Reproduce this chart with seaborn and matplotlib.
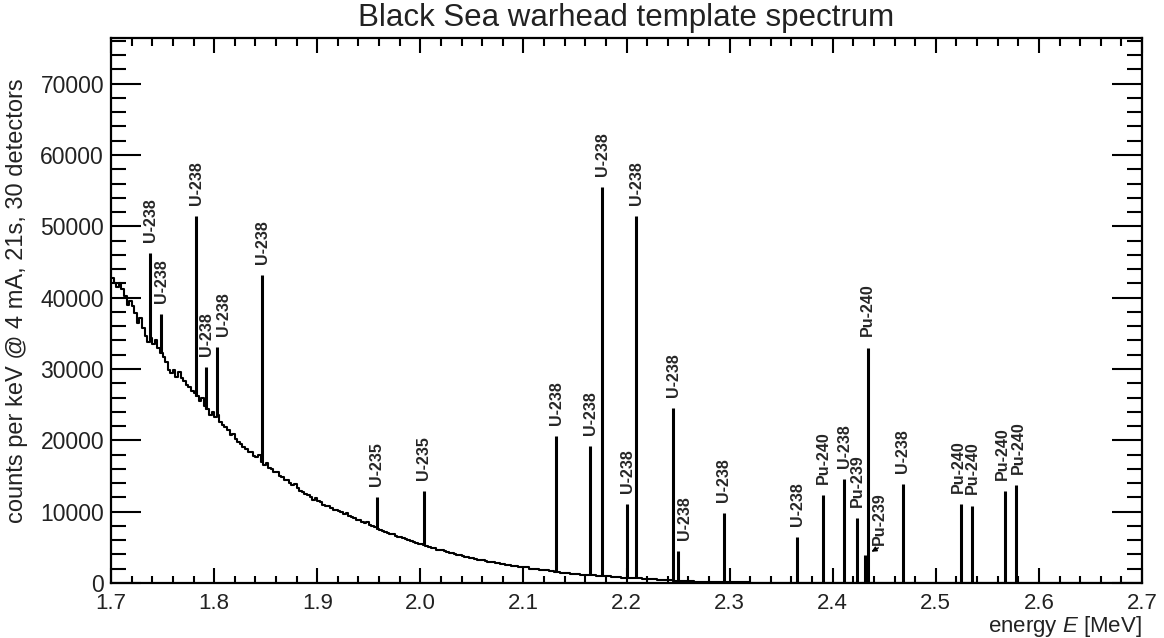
"""Black Sea warhead template spectrum: background histogram plus labelled gamma lines."""

import matplotlib

matplotlib.use("Agg")
import matplotlib.pyplot as plt
import numpy as np
import pandas as pd
import seaborn as sns
from matplotlib.ticker import FormatStrFormatter, MultipleLocator

# background counts
# 2.5 keV bins from 1.700 to 2.100 MeV
bg_fine = [
    42800, 42100, 41500, 42000, 41200, 40300, 39000, 39600, 38900, 37900,  # 1.700
    36500, 37200, 35700, 34600, 33800, 34300, 33500, 34000, 32900, 32200,  # 1.725
    31700, 31000, 29900, 29500, 29800, 28900, 29600, 28700, 28300, 27800,  # 1.750
    27500, 26900, 26600, 26200, 25500, 25900, 24800, 24400, 23600, 24000,  # 1.775
    23300, 23500, 22600, 22100, 21800, 21400, 20700, 20900, 20200, 19800,  # 1.800
    19500, 19000, 18800, 18300, 18400, 17800, 17600, 17900, 17000, 16600,  # 1.825
    16800, 16100, 16000, 15600, 15500, 15000, 14800, 14500, 14400, 14000,  # 1.850
    13800, 13900, 13300, 12900, 12700, 12500, 12400, 12000, 11700, 11900,  # 1.875
    11500, 11300, 11000, 10800, 10800, 10500, 10200, 10300, 10100, 9900,  # 1.900
    9700, 9800, 9400, 9300, 9100, 8900, 8900, 8600, 8400, 8500,  # 1.925
    8100, 8000, 7800, 7600, 7500, 7300, 7200, 7000, 6900, 6800,  # 1.950
    6600, 6500, 6500, 6300, 6200, 6000, 5900, 5800, 5600, 5500,  # 1.975
    5500, 5300, 5200, 5100, 4950, 4850, 4650, 4600, 4600, 4450,  # 2.000
    4300, 4250, 4150, 4050, 3950, 3950, 3800, 3700, 3600, 3550,  # 2.025
    3450, 3350, 3250, 3250, 3200, 3100, 3000, 2950, 2950, 2850,  # 2.050
    2750, 2700, 2650, 2550, 2500, 2450, 2400, 2350, 2300, 2250,  # 2.075
]
# 5 keV bins from 2.100 to 2.700 MeV
bg_coarse = [
    2180, 2030, 1970, 1840, 1760, 1640, 1560, 1470, 1410, 1320,  # 2.10
    1280, 1190, 1150, 1070, 1030, 960, 930, 860, 830, 770,  # 2.15
    750, 690, 670, 610, 590, 530, 490, 420, 400, 340,  # 2.20
    310, 260, 250, 200, 195, 165, 155, 125, 120, 105,  # 2.25
    100, 90, 80, 75, 70, 60, 55, 50, 45, 40,  # 2.30
    35, 30, 30, 25, 25, 20, 20, 20, 15, 15,  # 2.35
    15, 15, 10, 10, 10, 10, 10, 10, 10, 10,  # 2.40
    10, 10, 8, 8, 8, 8, 6, 6, 6, 6,  # 2.45
    6, 6, 5, 5, 5, 5, 5, 5, 5, 5,  # 2.50
    5, 5, 5, 5, 4, 4, 4, 4, 4, 4,  # 2.55
    4, 4, 4, 4, 4, 3, 3, 3, 3, 3,  # 2.60
    3, 3, 3, 3, 3, 3, 3, 3, 3, 3,  # 2.65
]

# gamma lines: energy [MeV], bin content at the top of the line, isotope
peak_energy = [
    1.7378, 1.7485, 1.7827, 1.7925, 1.8028, 1.8468, 1.9577, 2.0033, 2.1319,
    2.1646, 2.1766, 2.2008, 2.2095, 2.2454, 2.2496, 2.2943, 2.3657, 2.3906,
    2.4110, 2.4236, 2.4316, 2.4339, 2.4678, 2.5241, 2.5351, 2.5671, 2.5781,
]
peak_counts = [
    46250, 37750, 51450, 30250, 33100, 43150, 12000, 12900, 20600,
    19200, 55450, 11050, 51500, 24500, 4500, 9850, 6500, 12300,
    14550, 9050, 3900, 33000, 13850, 11100, 10850, 12900, 13700,
]
peak_isotope = [
    "U-238", "U-238", "U-238", "U-238", "U-238", "U-238", "U-235", "U-235", "U-238",
    "U-238", "U-238", "U-238", "U-238", "U-238", "U-238", "U-238", "U-238", "Pu-240",
    "U-238", "Pu-239", "Pu-239", "Pu-240", "U-238", "Pu-240", "Pu-240", "Pu-240", "Pu-240",
]

# labels nudged sideways (points) so neighbours do not overlap; index 20 gets an arrow
label_nudge = {4: 5, 14: 5, 23: -1.5, 25: -2, 26: 1.5}
arrow_label = 20

sns.set_theme(style="ticks")
plt.rcParams["font.family"] = ["Liberation Sans", "DejaVu Sans"]
plt.rcParams["mathtext.fontset"] = "custom"
plt.rcParams["mathtext.it"] = "Liberation Sans:italic"
plt.rcParams["mathtext.rm"] = "Liberation Sans"

edges = np.concatenate([
    1.7 + 0.0025 * np.arange(len(bg_fine)),
    2.1 + 0.005 * np.arange(len(bg_coarse) + 1),
]).round(5)
bg_all = np.array(bg_fine + bg_coarse)
spectrum = pd.DataFrame({"energy": (edges[:-1] + edges[1:]) / 2, "counts": bg_all})

fig, ax = plt.subplots(figsize=(11.64, 6.38), dpi=100)
fig.subplots_adjust(left=0.0954, right=0.9811, bottom=0.0862, top=0.9404)

sns.histplot(
    data=spectrum, x="energy", weights="counts", bins=edges.tolist(), element="step",
    fill=False, color="black", linewidth=1.5, ax=ax,
)

# each line rises from the background bin it sits in
base = bg_all[np.searchsorted(edges, peak_energy, side="right") - 1]
ax.vlines(peak_energy, base, peak_counts, color="black", linewidth=2.2)

for i, (e, top, name) in enumerate(zip(peak_energy, peak_counts, peak_isotope)):
    if i == arrow_label:
        ax.annotate(
            name, xy=(e, top), xytext=(10, 7), textcoords="offset points",
            rotation=90, ha="center", va="bottom", fontsize=11.5, fontweight="bold",
        )
        ax.annotate(
            "", xy=(e, top), xytext=(9.4, 5.3), textcoords="offset points",
            arrowprops=dict(arrowstyle="-|>,head_length=0.25,head_width=0.12",
                            color="black", lw=1.0, shrinkA=0, shrinkB=5),
        )
        continue
    ax.annotate(
        name, xy=(e, top), xytext=(label_nudge.get(i, 0), 8), textcoords="offset points",
        rotation=90, ha="center", va="bottom", fontsize=11.5, fontweight="bold",
    )

ax.set_xlim(1.7, 2.7)
ax.set_ylim(0, 76400)
ax.xaxis.set_major_locator(MultipleLocator(0.1))
ax.xaxis.set_minor_locator(MultipleLocator(0.02))
ax.xaxis.set_major_formatter(FormatStrFormatter("%.1f"))
ax.yaxis.set_major_locator(MultipleLocator(10000))
ax.yaxis.set_minor_locator(MultipleLocator(2000))

ax.tick_params(axis="x", which="major", direction="in", length=10.8, width=1.5,
               top=True, bottom=True, labelsize=16, pad=7)
ax.tick_params(axis="x", which="minor", direction="in", length=5.4, width=1.5,
               top=True, bottom=True)
ax.tick_params(axis="y", which="major", direction="in", length=21.6, width=1.5,
               left=True, right=True, labelsize=16.5, pad=5)
ax.tick_params(axis="y", which="minor", direction="in", length=10.8, width=1.5,
               left=True, right=True)
for spine in ax.spines.values():
    spine.set_visible(True)
    spine.set_linewidth(1.6)
    spine.set_color("black")

ax.set_title("Black Sea warhead template spectrum", fontsize=22.5, pad=9, color="#222222")
ax.set_xlabel("energy $E$ [MeV]", fontsize=16, loc="right", color="#222222")
ax.set_ylabel("counts per keV @ 4 mA, 21s, 30 detectors", fontsize=17, color="#222222")
ax.xaxis.set_label_coords(1.0, -0.056)
ax.yaxis.set_label_coords(-0.0805, 0.518)
ax.tick_params(colors="black", labelcolor="#222222", which="both")

fig.savefig("out.png", dpi=100)
plt.close(fig)
